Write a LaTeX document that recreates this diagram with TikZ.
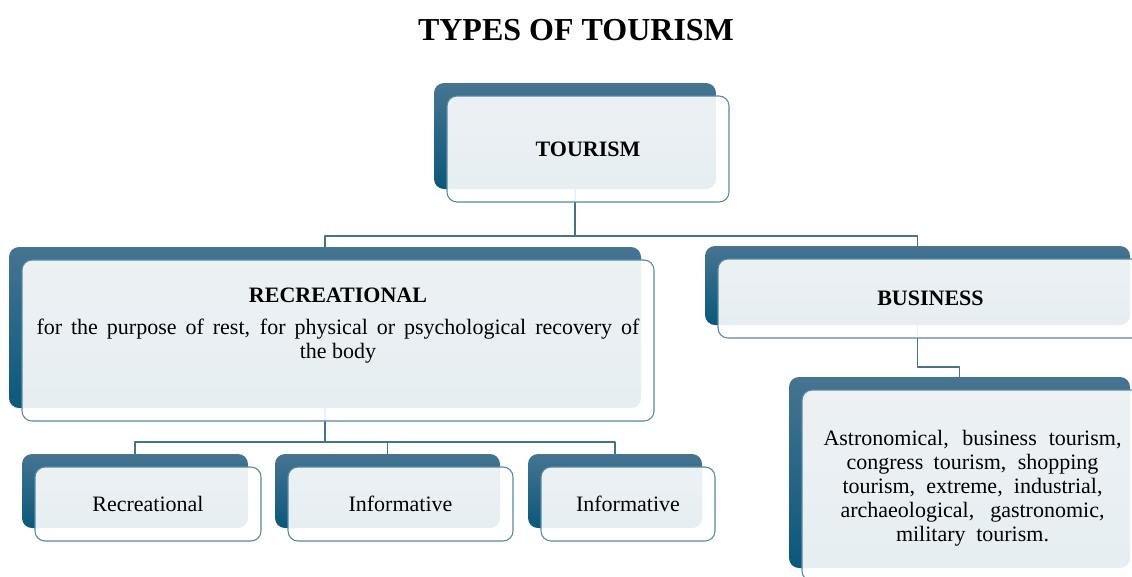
\documentclass[tikz,border=0pt]{standalone}
\usepackage{fontspec}
\setmainfont{Liberation Serif}
\definecolor{bartop}{RGB}{70,116,145}
\definecolor{barbot}{RGB}{10,88,123}
\definecolor{edgeblue}{RGB}{88,136,163}
\definecolor{linkblue}{RGB}{72,114,140}
\tikzset{
  back/.style={rounded corners=7.5pt, top color=bartop, bottom color=barbot, inner sep=0pt},
  front/.style={rounded corners=7.5pt, draw=edgeblue, line width=0.8pt, fill=white,
    fill opacity=0.9, text opacity=1, inner sep=0pt, align=center},
  link/.style={draw=linkblue, line width=0.9pt}
}
\begin{document}
\begin{tikzpicture}[x=0.75pt, y=-0.75pt, font=\fontsize{16.5}{18}\selectfont, line join=round]
	\clip (0,0) rectangle (1132,576);
	\node[font=\fontsize{24}{28}\selectfont\bfseries, anchor=base] (title) at (576,40) {TYPES OF TOURISM};
	% back panels
	\node[back, minimum width=211.5pt, minimum height=79.5pt] (tourB) at (575,136) {};
	\node[back, minimum width=474pt, minimum height=120.75pt] (recB) at (325,327.5) {};
	\node[back, minimum width=318.75pt, minimum height=59.25pt] (busB) at (917.5,285.5) {};
	\node[back, minimum width=255.75pt, minimum height=143.25pt] (detB) at (959.5,472.5) {};
	\node[back, minimum width=169.5pt, minimum height=55.5pt] (oneB) at (135,491) {};
	\node[back, minimum width=168.75pt, minimum height=55.5pt] (twoB) at (387.5,491) {};
	\node[back, minimum width=130.5pt, minimum height=55.5pt] (threeB) at (615,491) {};
	% connectors
	\coordinate (jtour) at (575,236);
	\coordinate (jrec) at (325,442);
	\coordinate (jbus) at (917.5,367);
	\draw[link] (tourB.south) -- (jtour) -| (recB.north);
	\draw[link] (jtour) -| (busB.north);
	\draw[link] (recB.south) -- (jrec) -| (oneB.north);
	\draw[link] (jrec) -| (twoB.north);
	\draw[link] (jrec) -| (threeB.north);
	\draw[link] (busB.south) -- (jbus) -| (detB.north);
	% front panels
	\node[front, minimum width=211.5pt, minimum height=79.5pt] (tourF) at ([xshift=9.75pt,yshift=-9.75pt]tourB.center) {\bfseries TOURISM};
	\node[front, minimum width=474pt, minimum height=120.75pt] (recF) at ([xshift=9.75pt,yshift=-9.75pt]recB.center) {};
	\node[front, minimum width=318.75pt, minimum height=59.25pt] (busF) at ([xshift=9.75pt,yshift=-9.75pt]busB.center) {\bfseries BUSINESS};
	\node[front, minimum width=255.75pt, minimum height=143.25pt] (detF) at ([xshift=9.75pt,yshift=-9.75pt]detB.center) {};
	\node[front, minimum width=169.5pt, minimum height=55.5pt] (oneF) at ([xshift=9.75pt,yshift=-9.75pt]oneB.center) {Recreational};
	\node[front, minimum width=168.75pt, minimum height=55.5pt] (twoF) at ([xshift=9.75pt,yshift=-9.75pt]twoB.center) {Informative};
	\node[front, minimum width=130.5pt, minimum height=55.5pt] (threeF) at ([xshift=9.75pt,yshift=-9.75pt]threeB.center) {Informative};
	% texts of the two large panels
	\node[anchor=north, align=center, inner sep=0pt] (recT) at ([yshift=40pt]recF.center)
		{\textbf{RECREATIONAL}\\[6pt]
		\makebox[452.25pt][s]{for the purpose of rest, for physical or psychological recovery of}\\
		the body};
	\node[align=center, inner sep=0pt] (detT) at ([yshift=-2pt]detF.center)
		{\makebox[223.5pt][s]{Astronomical, business tourism,}\\
		\makebox[189pt][s]{congress tourism, shopping}\\
		\makebox[195pt][s]{tourism, extreme, industrial,}\\
		\makebox[198pt][s]{archaeological, gastronomic,}\\
		\makebox[114.75pt][s]{military tourism.}};
\end{tikzpicture}
\end{document}
